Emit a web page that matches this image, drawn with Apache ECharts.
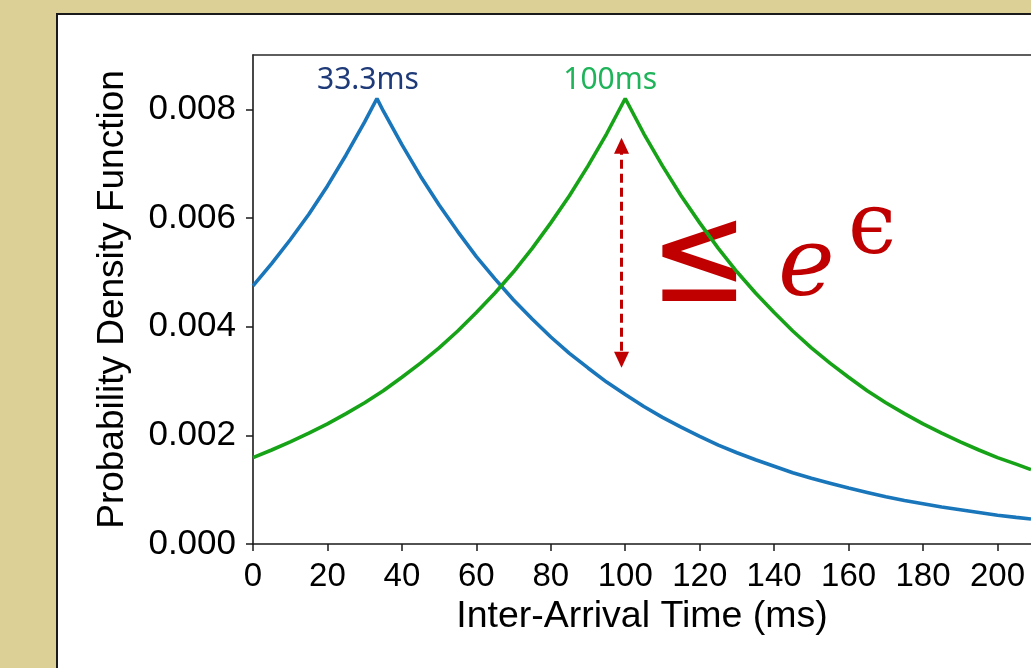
<!DOCTYPE html>
<html>
<head>
<meta charset="utf-8">
<script src="https://cdn.jsdelivr.net/npm/echarts@6/dist/echarts.min.js"></script>
<style>
  html, body { margin: 0; padding: 0; width: 1031px; height: 668px; overflow: hidden; background: #DCD096; }
  #panel { position: absolute; left: 56px; top: 13px; width: 1100px; height: 800px; background: #ffffff; border: 2px solid #1a1a1a; box-sizing: border-box; }
  #chart { position: absolute; left: 0; top: 0; width: 1031px; height: 668px; }
</style>
</head>
<body>
<div id="panel"></div>
<div id="chart"></div>
<script>
// Inter-arrival time (ms) sample positions and PDF values
const timesBlue = [0, 5, 10, 15, 20, 25, 30, 33.3, 35, 40, 45, 50, 55, 60, 65, 70, 75, 80, 85, 90, 95, 100, 105, 110, 115, 120, 125, 130, 135, 140, 145, 150, 155, 160, 165, 170, 175, 180, 185, 190, 195, 200, 205, 209];
const pdfBlue   = [0.00475, 0.00516, 0.00560, 0.00607, 0.00659, 0.00716, 0.00777, 0.00820, 0.00797, 0.00735, 0.00677, 0.00624, 0.00575, 0.00529, 0.00488, 0.00449, 0.00414, 0.00381, 0.00351, 0.00324, 0.00298, 0.00275, 0.00253, 0.00233, 0.00215, 0.00198, 0.00182, 0.00168, 0.00155, 0.00143, 0.00131, 0.00121, 0.00112, 0.00103, 0.00095, 0.00087, 0.00080, 0.00074, 0.00068, 0.00063, 0.00058, 0.00053, 0.00049, 0.00046];
const timesGreen = [0, 5, 10, 15, 20, 25, 30, 35, 40, 45, 50, 55, 60, 65, 70, 75, 80, 85, 90, 95, 100, 105, 110, 115, 120, 125, 130, 135, 140, 145, 150, 155, 160, 165, 170, 175, 180, 185, 190, 195, 200, 205, 209];
const pdfGreen   = [0.00159, 0.00173, 0.00188, 0.00204, 0.00221, 0.00240, 0.00260, 0.00282, 0.00307, 0.00333, 0.00361, 0.00392, 0.00426, 0.00462, 0.00501, 0.00544, 0.00591, 0.00641, 0.00696, 0.00755, 0.00820, 0.00755, 0.00696, 0.00641, 0.00591, 0.00544, 0.00501, 0.00462, 0.00426, 0.00392, 0.00361, 0.00333, 0.00307, 0.00282, 0.00260, 0.00240, 0.00221, 0.00204, 0.00188, 0.00173, 0.00159, 0.00147, 0.00137];
const xTicks = [0, 20, 40, 60, 80, 100, 120, 140, 160, 180, 200];
const yTicks = [0, 0.002, 0.004, 0.006, 0.008];
const peakBlue = [33.3, 0.0082];
const peakGreen = [100, 0.0082];
const peakLabels = ['33.3ms', '100ms'];
const arrowX = 99;
const arrowRange = [0.00733, 0.00339];
const xRange = [0, 209];
const yRange = [0, 0.009];

const chart = echarts.init(document.getElementById('chart'), null, { renderer: 'canvas' });
chart.setOption({
  animation: false,
  grid: { left: 253, top: 55, right: 0, bottom: 124, containLabel: false },
  xAxis: [{
    type: 'value', min: xRange[0], max: xRange[1], position: 'bottom',
    name: 'Inter-Arrival Time (ms)', nameLocation: 'middle', nameGap: 53,
    nameTextStyle: { fontFamily: 'Liberation Sans', fontSize: 37.5, color: '#000' },
    axisLine: { show: true, onZero: false, lineStyle: { color: '#1a1a1a', width: 1.6 } },
    axisTick: { show: true, length: 7, customValues: xTicks, lineStyle: { color: '#1a1a1a', width: 1.5 } },
    axisLabel: { margin: 16, customValues: xTicks, formatter: v => String(v), fontFamily: 'Liberation Sans', fontSize: 33, color: '#000' },
    splitLine: { show: false }
  }, {
    type: 'value', min: xRange[0], max: xRange[1], position: 'top',
    axisLine: { show: true, onZero: false, lineStyle: { color: '#2a2a2a', width: 1.6 } },
    axisTick: { show: false }, axisLabel: { show: false }, splitLine: { show: false }
  }],
  yAxis: [{
    type: 'value', min: yRange[0], max: yRange[1], interval: 0.002,
    name: 'Probability Density Function', nameLocation: 'middle', nameGap: 122,
    nameTextStyle: { fontFamily: 'Liberation Sans', fontSize: 37, color: '#000' },
    axisLine: { show: true, onZero: false, lineStyle: { color: '#1a1a1a', width: 1.6 } },
    axisTick: { show: true, length: 7, customValues: yTicks, lineStyle: { color: '#1a1a1a', width: 1.5 } },
    axisLabel: { margin: 17, customValues: yTicks, formatter: v => v.toFixed(3), fontFamily: 'Liberation Sans', fontSize: 35, color: '#000' },
    splitLine: { show: false }
  }],
  series: [{
    type: 'line', name: 'mu33', xAxisIndex: 0, z: 5,
    data: timesBlue.map((t, i) => [t, pdfBlue[i]]),
    showSymbol: false, symbol: 'none',
    lineStyle: { color: '#1a76bb', width: 3.6 },
    markPoint: {
      symbol: 'circle', symbolSize: 0,
      data: [{ coord: peakBlue, value: peakLabels[0] }],
      label: { show: true, formatter: peakLabels[0], position: 'top', offset: [-9, 2], fontFamily: 'Noto Sans', fontSize: 30, color: '#1f3a78' }
    }
  }, {
    type: 'line', name: 'mu100', xAxisIndex: 0, z: 5,
    data: timesGreen.map((t, i) => [t, pdfGreen[i]]),
    showSymbol: false, symbol: 'none',
    lineStyle: { color: '#17a317', width: 3.6 },
    markPoint: {
      symbol: 'circle', symbolSize: 0,
      data: [{ coord: peakGreen, value: peakLabels[1] }],
      label: { show: true, formatter: peakLabels[1], position: 'top', offset: [-15, 2], fontFamily: 'Noto Sans', fontSize: 30, color: '#1fb35a' }
    },
    markLine: {
      silent: true, symbol: ['triangle', 'triangle'], symbolSize: [15, 16],
      lineStyle: { type: [9, 5], color: '#c00000', width: 3 },
      label: { show: false },
      data: [[{ coord: [arrowX, arrowRange[0]] }, { coord: [arrowX, arrowRange[1]] }]]
    }
  }],
  graphic: {
    elements: [
      { type: 'text', z: 1, x: 650, y: 196, scaleX: 0.92, scaleY: 1.08, style: { text: '≤', font: '128px "DejaVu Sans"', fill: '#c00000' } },
      { type: 'text', z: 1, left: 778, top: 222, style: { text: 'e', font: 'italic 96px "DejaVu Serif"', fill: '#c00000' } },
      { type: 'text', z: 1, left: 848, top: 188, style: { text: 'ϵ', font: '86px "DejaVu Serif"', fill: '#c00000' } }
    ]
  }
});
</script>
</body>
</html>
